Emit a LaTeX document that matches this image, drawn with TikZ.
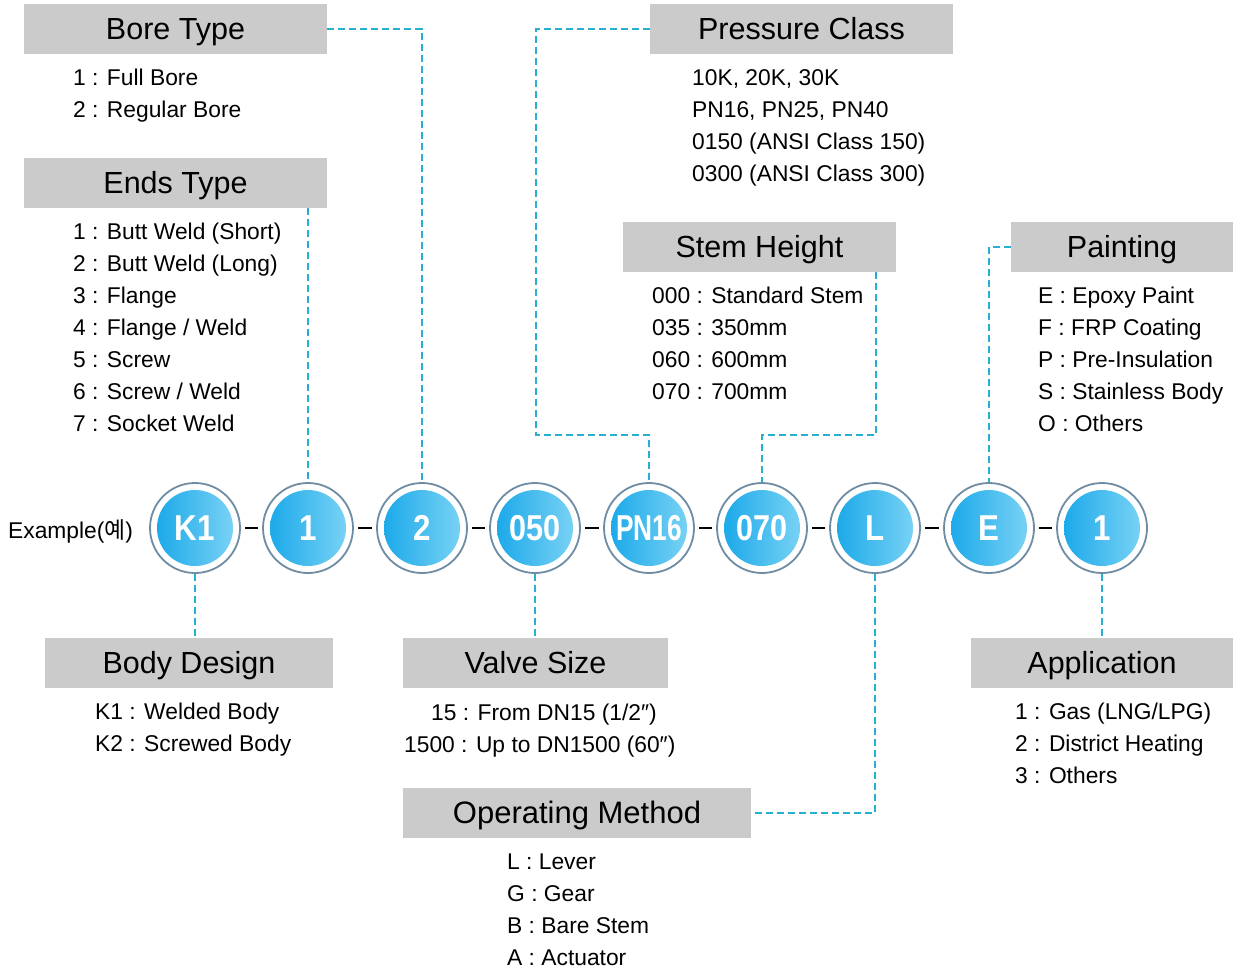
\documentclass[tikz,border=0pt]{standalone}
\usepackage{fontspec}
\setmainfont{Liberation Sans}
\newfontfamily\cjk{Noto Sans CJK KR}
\usetikzlibrary{calc}
\definecolor{boxgray}{HTML}{CBCBCB}
\definecolor{conncol}{HTML}{27B0D2}
\definecolor{ringcol}{HTML}{6E8CA3}
\definecolor{gA}{HTML}{14A6E9}
\definecolor{gB}{HTML}{0FC2F0}
\definecolor{gC}{HTML}{80D5F5}
\tikzset{
  hdr/.style={fill=boxgray, inner sep=0pt, minimum height=50pt,
    font=\fontsize{30.5}{36}\selectfont, text height=21.8pt, text depth=0pt},
  lst/.style={anchor=base west, inner sep=0pt, font=\fontsize{22.8}{28}\selectfont},
  circ/.style={circle, minimum size=90pt, inner sep=0pt, draw=ringcol, line width=1.8pt, fill=white,
    path picture={\shade[left color=gA, middle color=gB, right color=gC]
      (path picture bounding box.center) circle[radius=38pt];},
    text=white, font=\fontsize{36}{40}\selectfont\bfseries, text height=25.8pt, text depth=0pt},
  conn/.style={draw=conncol, line width=1.3pt, dash pattern=on 7pt off 4pt},
  hyph/.style={draw=black, line width=2.6pt, shorten >=4.5pt, shorten <=4.5pt},
}
\newcommand{\sq}[2]{\scalebox{#1}[1]{#2}}
\begin{document}
\begin{tikzpicture}[x=1pt,y=-1pt]
\useasboundingbox (0,0) rectangle (1233,970);
\fill[white] (0,0) rectangle (1233,970);

% header boxes
\node[hdr, minimum width=303pt] (bore)  at (175.5,29) {Bore Type};
\node[hdr, minimum width=303pt] (ends)  at (175.5,183) {Ends Type};
\node[hdr, minimum width=303pt] (press) at (801.5,29) {Pressure Class};
\node[hdr, minimum width=273pt] (stem)  at (759.5,247) {Stem Height};
\node[hdr, minimum width=222pt] (paint) at (1122,247) {Painting};
\node[hdr, minimum width=288pt] (body)  at (189,663) {Body Design};
\node[hdr, minimum width=265pt] (valve) at (535.5,663) {Valve Size};
\node[hdr, minimum width=262pt] (app)   at (1102,663) {Application};
\node[hdr, minimum width=348pt, font=\fontsize{31}{36}\selectfont] (op) at (577,813) {Operating Method};

% lists
\node[lst] (b1) at (73,85) {1 : Full Bore};
\node[lst] (b2) at (73,117) {2 : Regular Bore};

\node[lst] (e1) at (73,239) {1 : Butt Weld (Short)};
\node[lst] (e2) at (73,271) {2 : Butt Weld (Long)};
\node[lst] (e3) at (73,303) {3 : Flange};
\node[lst] (e4) at (73,335) {4 : Flange / Weld};
\node[lst] (e5) at (73,367) {5 : Screw};
\node[lst] (e6) at (73,399) {6 : Screw / Weld};
\node[lst] (e7) at (73,431) {7 : Socket Weld};

\node[lst] (p1) at (692,85) {10K, 20K, 30K};
\node[lst] (p2) at (692,117) {PN16, PN25, PN40};
\node[lst] (p3) at (692,149) {0150 (ANSI Class 150)};
\node[lst] (p4) at (692,181) {0300 (ANSI Class 300)};

\node[lst] (s1) at (652,303) {000 : Standard Stem};
\node[lst] (s2) at (652,335) {035 : 350mm};
\node[lst] (s3) at (652,367) {060 : 600mm};
\node[lst] (s4) at (652,399) {070 : 700mm};

\node[lst] (pt1) at (1038,303) {E : Epoxy Paint};
\node[lst] (pt2) at (1038,335) {F : FRP Coating};
\node[lst] (pt3) at (1038,367) {P : Pre-Insulation};
\node[lst] (pt4) at (1038,399) {S : Stainless Body};
\node[lst] (pt5) at (1038,431) {O : Others};

\node[lst] (bd1) at (95,719) {K1 : Welded Body};
\node[lst] (bd2) at (95,751) {K2 : Screwed Body};

\node[lst] (v1) at (431,720) {15 : From DN15 (1/2″)};
\node[lst] (v2) at (404,752) {1500 : Up to DN1500 (60″)};

\node[lst] (a1) at (1015,719) {1 : Gas (LNG/LPG)};
\node[lst] (a2) at (1015,751) {2 : District Heating};
\node[lst] (a3) at (1015,783) {3 : Others};

\node[lst] (o1) at (507,869) {L : Lever};
\node[lst] (o2) at (507,901) {G : Gear};
\node[lst] (o3) at (507,933) {B : Bare Stem};
\node[lst] (o4) at (507,965) {A : Actuator};

\node[lst, font=\fontsize{22.8}{26}\selectfont] (ex) at (8,538) {Example({\cjk 예})};

% circles
\node[circ] (c1) at (195,528) {\sq{0.87}{K1}};
\node[circ] (c2) at (308,528) {\sq{0.87}{1}};
\node[circ] (c3) at (422,528) {\sq{0.87}{2}};
\node[circ] (c4) at (535,528) {\sq{0.85}{050}};
\node[circ] (c5) at (649,528) {\sq{0.73}{PN16}};
\node[circ] (c6) at (762,528) {\sq{0.85}{070}};
\node[circ] (c7) at (875,528) {\sq{0.87}{L}};
\node[circ] (c8) at (989,528) {\sq{0.87}{E}};
\node[circ] (c9) at (1102,528) {\sq{0.87}{1}};

% hyphens
\foreach \a/\b in {c1/c2,c2/c3,c3/c4,c4/c5,c5/c6,c6/c7,c7/c8,c8/c9}
  \draw[hyph] (\a.east) -- (\b.west);

% connectors
\coordinate (pk) at (536,435);
\coordinate (sk) at (876,435);
\draw[conn] (bore.east) -| (c3.north);
\draw[conn] (ends.south -| c2.north) -- (c2.north);
\draw[conn] (press.west) -| (pk) -| (c5.north);
\draw[conn] (stem.south -| sk) -- (sk) -| (c6.north);
\draw[conn] (paint.west) -| (c8.north);
\draw[conn] (c1.south) -- (c1.south |- body.north);
\draw[conn] (c4.south) -- (c4.south |- valve.north);
\draw[conn] (c7.south) |- (op.east);
\draw[conn] (c9.south) -- (c9.south |- app.north);
\end{tikzpicture}
\end{document}
